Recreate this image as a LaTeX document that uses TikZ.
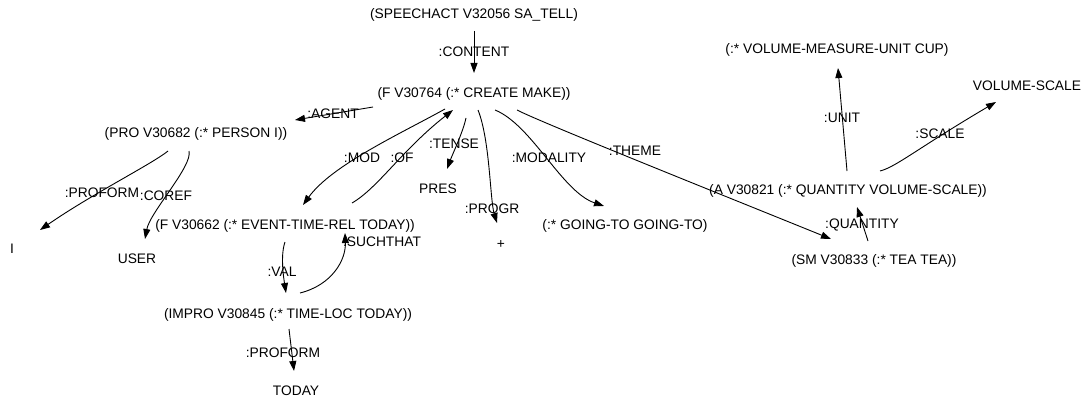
\documentclass[tikz,border=0pt]{standalone}
\usepackage{fontspec}
\setmainfont{Liberation Sans}
\usetikzlibrary{arrows.meta,calc}

\tikzset{
  term/.style={anchor=base, inner sep=0pt, font=\fontsize{13.8}{16}\selectfont},
  role/.style={anchor=base, inner sep=0pt, font=\fontsize{13.8}{16}\selectfont},
  edge/.style={draw=black, line width=0.9pt, -{Triangle[length=10pt,width=7pt]}},
}

\begin{document}
\begin{tikzpicture}[x=1pt, y=-1pt]
\path[use as bounding box] (0,0) rectangle (1084,401);

% terms
\node[term] (sa)     at (474,19)  {(SPEECHACT V32056 SA\_TELL)};
\node[term] (create) at (474,98)  {(F V30764 (:* CREATE MAKE))};
\node[term] (pro)    at (196,138) {(PRO V30682 (:* PERSON I))};
\node[term] (iota)   at (12,253)  {I};
\node[term] (user)   at (137,263) {USER};
\node[term] (ftime)  at (285,229) {(F V30662 (:* EVENT-TIME-REL TODAY))};
\node[term] (impro)  at (288,318) {(IMPRO V30845 (:* TIME-LOC TODAY))};
\node[term] (today)  at (296,395) {TODAY};
\node[term] (pres)   at (438,193) {PRES};
\node[term] (plus)   at (501,248) {+};
\node[term] (going)  at (625,229) {(:* GOING-TO GOING-TO)};
\node[term] (aq)     at (848,194) {(A V30821 (:* QUANTITY VOLUME-SCALE))};
\node[term] (sm)     at (874,264) {(SM V30833 (:* TEA TEA))};
\node[term] (cup)    at (837,54)  {(:* VOLUME-MEASURE-UNIT CUP)};
\node[term] (vscale) at (1027,91) {VOLUME-SCALE};

% role labels
\node[role] (lcontent)  at (474,57)  {:CONTENT};
\node[role] (lagent)    at (333,119) {:AGENT};
\node[role] (lmod)      at (362,162) {:MOD};
\node[role] (lof)       at (402,162) {:OF};
\node[role] (ltense)    at (454,149) {:TENSE};
\node[role] (lprogr)    at (492,213) {:PROGR};
\node[role] (lmodality) at (549,163) {:MODALITY};
\node[role] (ltheme)    at (635,155) {:THEME};
\node[role] (lunit)     at (842,123) {:UNIT};
\node[role] (lscale)    at (940,139) {:SCALE};
\node[role] (lquantity) at (862,228) {:QUANTITY};
\node[role] (lproformA) at (102,197) {:PROFORM};
\node[role] (lcoref)    at (166,200) {:COREF};
\node[role] (lval)      at (282,276) {:VAL};
\node[role] (lsuch)     at (382,246) {:SUCHTHAT};
\node[role] (lproformB) at (283,357) {:PROFORM};

% connectors
\draw[edge] ($(sa.base)+(0,12)$) -- ($(create.base)+(0,-25)$);
\draw[edge] ($(create.base)+(-101,9)$) -- ($(pro.base)+(99,-18)$);
\draw[edge] ($(create.base)+(-29,11)$) .. controls (400,134) and (332,165) .. ($(ftime.base)+(18,-24)$);
\draw[edge] ($(ftime.base)+(67,-26)$) .. controls (378,188) and (402,150) .. ($(create.base)+(-21,12)$);
\draw[edge] ($(create.base)+(-8,20)$) .. controls (463,132) and (453,153) .. ($(pres.base)+(9,-24)$);
\draw[edge] ($(create.base)+(4,12)$) .. controls (490,140) and (490,200) .. ($(plus.base)+(-4,-25)$);
\draw[edge] ($(create.base)+(21,12)$) .. controls (532,125) and (562,192) .. ($(going.base)+(-21,-23)$);
\draw[edge] ($(create.base)+(43,12)$) .. controls (540,122) and (720,194) .. ($(sm.base)+(-43,-25)$);
\draw[edge] ($(aq.base)+(-1,-23)$) -- ($(cup.base)+(1,14)$);
\draw[edge] ($(aq.base)+(32,-23)$) .. controls (896,167) and (918,148) .. ($(vscale.base)+(-31,11)$);
\draw[edge] ($(sm.base)+(-6,-23)$) -- ($(aq.base)+(9,13)$);
\draw[edge] ($(pro.base)+(-28,13)$) .. controls (152,164) and (92,194) .. ($(iota.base)+(28,-23)$);
\draw[edge] ($(pro.base)+(-7,13)$) .. controls (193,166) and (150,212) .. ($(user.base)+(8,-24)$);
\draw[edge] ($(ftime.base)+(0,13)$) .. controls (280,256) and (284,280) .. ($(impro.base)+(-2,-25)$);
\draw[edge] ($(impro.base)+(12,-25)$) .. controls (332,285) and (346,260) .. ($(ftime.base)+(60,4)$);
\draw[edge] ($(impro.base)+(1,11)$) -- ($(today.base)+(-2,-24)$);
\end{tikzpicture}
\end{document}
